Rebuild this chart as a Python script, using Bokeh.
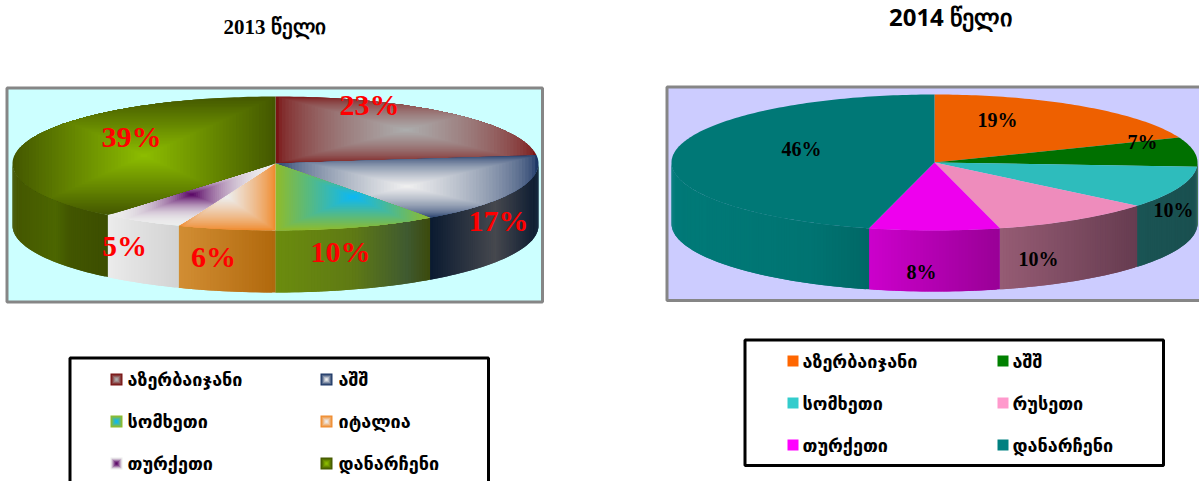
import math
from bokeh.plotting import figure
from bokeh.models import Range1d
from bokeh.embed import file_html
from bokeh.resources import INLINE
from bokeh.core.properties import value

# ---- data ----
title_2013 = "2013 წელი"
title_2014 = "2014 წელი"
cats_2013 = ["აზერბაიჯანი", "აშშ", "სომხეთი", "იტალია", "თურქეთი", "დანარჩენი"]
vals_2013 = [23, 17, 10, 6, 5, 39]
cats_2014 = ["აზერბაიჯანი", "აშშ", "სომხეთი", "რუსეთი", "თურქეთი", "დანარჩენი"]
vals_2014 = [19, 7, 10, 10, 8, 46]

# ---- styles ----
edge_2013 = ["#7a1414", "#1c3766", "#8fbb2c", "#f08a2c", "#ececec", "#445800"]
core_2013 = ["#acacac", "#efefef", "#0eb8f2", "#ededed", "#5c0a68", "#8cbc00"]
curve_2013 = [0.6, 0.6, 1.0, 0.8, 2.2, 1.0]
wall_2013 = [["#000000"], [(0, "#0a1a30"), (.6, "#46484e"), (1, "#0a1a30")],
             [(0, "#6b8c0e"), (.5, "#5f7a14"), (.85, "#3f5a30"), (1, "#3c4a0c")],
             [(0, "#d28e34"), (1, "#b0680c")], [(0, "#ebebeb"), (1, "#d2d2d2")],
             [(0, "#445600"), (.45, "#4c6600"), (.6, "#425600"), (1, "#3c4e00")]]
cap_2014 = ["#ee6000", "#007000", "#2ebcbc", "#ee8cbc", "#ee00ee", "#007876"]
wall_2014 = [[(0, "#a84400"), (1, "#a84400")], [(0, "#005000"), (1, "#005000")],
             [(0, "#1a5454"), (1, "#1a5050")], [(0, "#965c74"), (1, "#663c50")],
             [(0, "#cc00cc"), (1, "#990096")], [(0, "#007a78"), (.7, "#007472"), (1, "#006866")]]
mark_2014 = ["#ff6600", "#008000", "#33cccc", "#ff99cc", "#ff00ff", "#008080"]

GEO = "DejaVu Sans"

p = figure(width=1199, height=481, output_backend="svg", toolbar_location=None,
           x_range=Range1d(0, 1199), y_range=Range1d(481, 0), min_border=0)
p.axis.visible = False
p.grid.visible = False
p.outline_line_color = None
p.background_fill_color = "white"


def rgb(c):
    return tuple(int(c[i:i + 2], 16) for i in (1, 3, 5))


def mix(a, b, t):
    a, b = rgb(a), rgb(b)
    return "#%02x%02x%02x" % tuple(round(a[i] + (b[i] - a[i]) * t) for i in range(3))


def ramp(stops, t):
    for (t0, c0), (t1, c1) in zip(stops, stops[1:]):
        if t <= t1:
            return mix(c0, c1, (t - t0) / max(t1 - t0, 1e-6))
    return stops[-1][1]


def clip_to_box(poly, x0, x1, y0, y1):
    """Cut a polygon down to a box: the fill is a rectangular path gradient."""
    def cut(pts, inside, hit):
        out = []
        for a, b in zip(pts, pts[1:] + pts[:1]):
            if inside(a):
                out.append(a)
            if inside(a) != inside(b):
                out.append(hit(a, b))
        return out
    def hx(v):
        return lambda a, b: (v, a[1] + (b[1] - a[1]) * (v - a[0]) / (b[0] - a[0]))
    def hy(v):
        return lambda a, b: (a[0] + (b[0] - a[0]) * (v - a[1]) / (b[1] - a[1]), v)
    for inside, hit in ((lambda q: q[0] >= x0, hx(x0)), (lambda q: q[0] <= x1, hx(x1)),
                        (lambda q: q[1] >= y0, hy(y0)), (lambda q: q[1] <= y1, hy(y1))):
        if not poly:
            break
        poly = cut(poly, inside, hit)
    return poly


def pie(vals, cx, cy, rx, ry, depth, walls, edges, cores=None, curves=None):
    total = sum(vals)
    pos = lambda a: (cx + rx * math.sin(a), cy - ry * math.cos(a))
    xs, ys, cols = [], [], []
    acc = 0
    spans = []
    for v in vals:
        spans.append((acc / total * 2 * math.pi, (acc + v) / total * 2 * math.pi))
        acc += v
    # side walls (only the front half can be seen)
    for (a0, a1), stops in zip(spans, walls):
        lo, hi = max(a0, math.pi / 2), min(a1, 3 * math.pi / 2)
        if hi <= lo or len(stops) == 1:
            continue
        n = max(2, int((hi - lo) / math.radians(0.7)))
        xa, xb = sorted((pos(lo)[0], pos(hi)[0]))
        for k in range(n):
            u0 = lo + (hi - lo) * k / n
            u1 = lo + (hi - lo) * (k + 1) / n
            u2 = lo + (hi - lo) * min(k + 2, n) / n      # overlap hides the seams
            (x0, y0), (x1, y1), (x2, y2) = pos(u0), pos(u1), pos(u2)
            xs.append([x0, x2, x2, x0])
            ys.append([y0, y2, y2 + depth, y0 + depth])
            cols.append(ramp(stops, ((x0 + x1) / 2 - xa) / max(xb - xa, 1)))
    p.patches(xs, ys, fill_color=cols, line_color=None)
    # top cap
    xs, ys, cols = [], [], []
    for i, (a0, a1) in enumerate(spans):
        m = max(2, int(math.degrees(a1 - a0)))
        pts = [(cx, cy)] + [pos(a0 + (a1 - a0) * k / m) for k in range(m + 1)]
        if cores is None:
            xs.append([q[0] for q in pts]); ys.append([q[1] for q in pts]); cols.append(edges[i])
        else:
            xl, xr = min(q[0] for q in pts), max(q[0] for q in pts)
            yt, yb = min(q[1] for q in pts), max(q[1] for q in pts)
            bx, by = (xl + xr) / 2, (yt + yb) / 2
            steps = 40
            for s in range(steps):
                t = 1 - s / steps
                cut = clip_to_box(pts, bx + (xl - bx) * t, bx + (xr - bx) * t,
                                  by + (yt - by) * t, by + (yb - by) * t)
                if len(cut) >= 3:
                    xs.append([q[0] for q in cut])
                    ys.append([q[1] for q in cut])
                    cols.append(mix(edges[i], cores[i], (s / (steps - 1)) ** curves[i]))
    p.patches(xs, ys, fill_color=cols, line_color=None)


def frame(x0, x1, y0, y1, fill, line, width):
    p.patches([[x0, x1, x1, x0]], [[y0, y0, y1, y1]], fill_color=fill,
              line_color=line, line_width=width)


def labels(xs, ys, vals, size, color):
    p.text(xs, ys, text=[f"{v}%" for v in vals], text_font=value("Liberation Serif"),
           text_font_style="bold", text_font_size=size, text_color=color,
           text_align="center", text_baseline="middle")


def legend(cats, xm, xt, ym, size, edges, cores=None):
    for i, c in enumerate(cats):
        col, row = i % 2, i // 2
        x0, y0 = xm[col], ym[row]
        if cores is None:
            p.patches([[x0, x0 + size, x0 + size, x0]], [[y0, y0, y0 + size, y0 + size]],
                      fill_color=edges[i], line_color=None)
        else:
            xs, ys, cols = [], [], []
            for s in range(5):
                d = s * size / 10
                xs.append([x0 + d, x0 + size - d, x0 + size - d, x0 + d])
                ys.append([y0 + d, y0 + d, y0 + size - d, y0 + size - d])
                cols.append(mix(edges[i], cores[i], s / 4))
            p.patches(xs, ys, fill_color=cols, line_color=None)
    p.text([xt[i % 2] for i in range(6)], [ym[i // 2] + size / 2 for i in range(6)],
           text=cats, text_font=value(GEO), text_font_style="bold", text_font_size="18px",
           text_color="black", text_align="left", text_baseline="middle")


# left chart
frame(6.5, 542, 87.5, 301.5, "#ccffff", "#868686", 3)
pie(vals_2013, 275, 163, 263, 67, 62, wall_2013, edge_2013, core_2013, curve_2013)
labels([369, 131, 498, 340, 213, 124], [103.5, 135.5, 219.5, 250.5, 255.5, 244.5], [23, 39, 17, 10, 6, 5], "30px", "#ff0000")
p.text([274], [26], text=[title_2013], text_font=value("Liberation Serif"), text_font_style="bold",
       text_font_size="21px", text_color="black", text_align="center", text_baseline="middle")
frame(69.5, 488, 357.5, 500, "white", "black", 3)
legend(cats_2013, [110, 320], [127, 338], [373, 415, 457], 12, edge_2013, core_2013)

# right chart
frame(666.5, 1210, 86.5, 300, "#ccccff", "#868686", 3)
pie(vals_2014, 934, 162, 263, 68, 61, wall_2014, cap_2014)
labels([997, 1142, 1173, 1038, 921, 801], [119, 141, 209, 258, 271, 148], [19, 7, 10, 10, 8, 46], "20px", "black")
p.text([950], [16], text=[title_2014], text_font=value("Open Sans"), text_font_style="bold",
       text_font_size="24px", text_color="black", text_align="center", text_baseline="middle")
frame(744.5, 1163, 339.5, 465, "white", "black", 3)
legend(cats_2014, [787, 997], [802, 1012], [355, 397, 439], 11, mark_2014)

open("out.html", "w").write(file_html(p, INLINE))
